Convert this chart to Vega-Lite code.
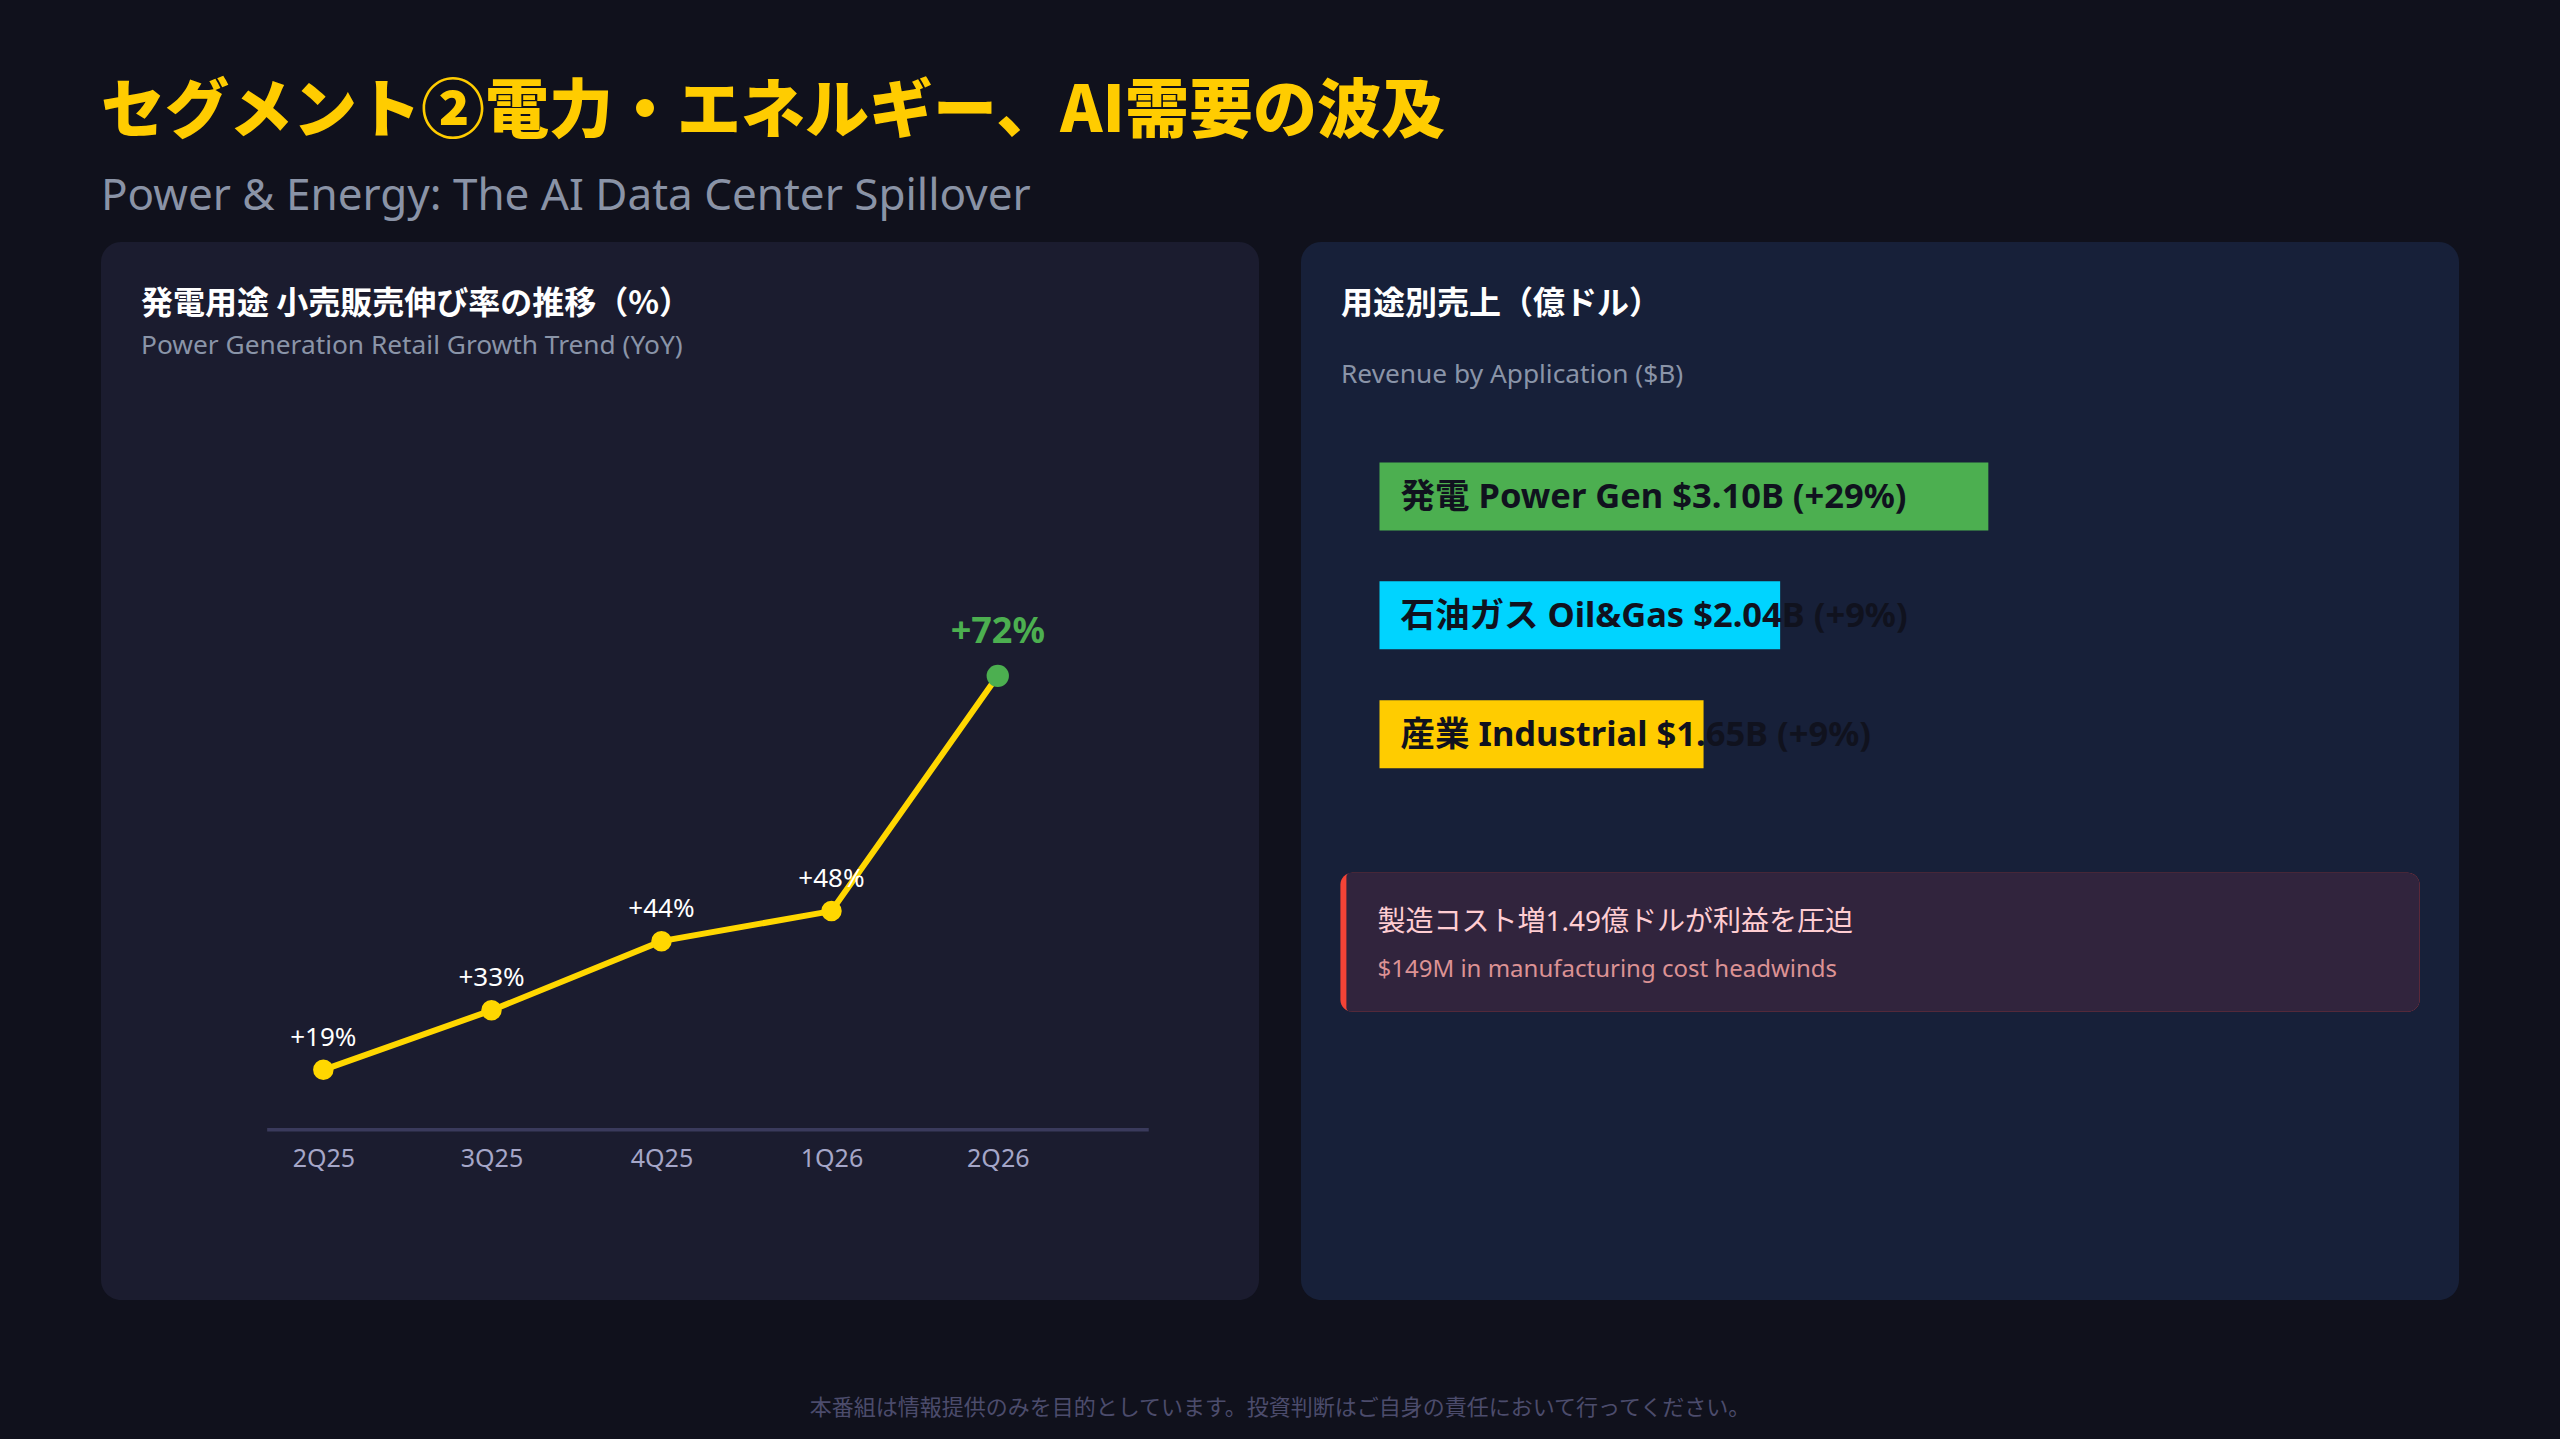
{
  "$schema": "https://vega.github.io/schema/vega-lite/v6.json",
  "background": "#10111c",
  "padding": {"left": 101, "top": 81, "right": 101, "bottom": 20},
  "title": {
    "text": "セグメント②電力・エネルギー、AI需要の波及",
    "subtitle": "Power & Energy: The AI Data Center Spillover",
    "anchor": "start",
    "frame": "bounds",
    "offset": 22.8,
    "font": "Noto Sans CJK JP",
    "fontSize": 64,
    "fontWeight": 900,
    "color": "#ffcc00",
    "subtitleFont": "Noto Sans, Noto Sans CJK JP",
    "subtitleFontSize": 44,
    "subtitleColor": "#8a93a6",
    "subtitlePadding": 30.2
  },
  "config": {
    "view": {"stroke": null},
    "text": {"font": "Noto Sans, Noto Sans CJK JP"}
  },
  "vconcat": [
    {
      "title": {
        "text": "本番組は情報提供のみを目的としています。投資判断はご自身の責任において行ってください。",
        "orient": "bottom",
        "anchor": "middle",
        "frame": "bounds",
        "offset": 97.6,
        "font": "Noto Sans CJK JP",
        "fontSize": 22,
        "fontWeight": "normal",
        "color": "#4c4c6c"
      },
      "spacing": 42,
      "hconcat": [
        {
          "width": 1158,
          "height": 1058,
          "view": {"fill": "#1b1c2f", "cornerRadius": 20, "stroke": null},
          "title": {
            "text": "発電用途 小売販売伸び率の推移（%）",
            "subtitle": "Power Generation Retail Growth Trend (YoY)",
            "anchor": "start",
            "frame": "group",
            "offset": -118.5,
            "dx": 40,
            "font": "Noto Sans CJK JP",
            "fontSize": 32,
            "fontWeight": "bold",
            "color": "#ffffff",
            "subtitleFont": "Noto Sans, Noto Sans CJK JP",
            "subtitleFontSize": 26.3,
            "subtitleColor": "#8a94a8",
            "subtitlePadding": 11.9
          },
          "data": {
            "values": [
              {"q": "2Q25", "quarter": "2025-04-01", "growth": 0.19},
              {"q": "3Q25", "quarter": "2025-07-01", "growth": 0.33},
              {"q": "4Q25", "quarter": "2025-10-01", "growth": 0.44},
              {"q": "1Q26", "quarter": "2026-01-01", "growth": 0.48},
              {"q": "2Q26", "quarter": "2026-04-01", "growth": 0.72}
            ]
          },
          "encoding": {
            "x": {
              "field": "quarter",
              "type": "temporal",
              "scale": {
                "type": "utc",
                "domain": [
                  {"year": 2024, "month": 12, "date": 1, "hours": 16, "utc": true},
                  {"year": 2026, "month": 8, "date": 20, "hours": 9, "utc": true}
                ],
                "nice": false
              },
              "axis": {
                "title": null,
                "values": [
                  {"year": 2025, "month": 4, "date": 1, "utc": true},
                  {"year": 2025, "month": 7, "date": 1, "utc": true},
                  {"year": 2025, "month": 10, "date": 1, "utc": true},
                  {"year": 2026, "month": 1, "date": 1, "utc": true},
                  {"year": 2026, "month": 4, "date": 1, "utc": true}
                ],
                "format": "%qQ%y",
                "domain": false,
                "ticks": false,
                "tickSize": 0,
                "grid": false,
                "labelFlush": false,
                "labelOverlap": false,
                "labelPadding": 17,
                "labelFont": "Noto Sans",
                "labelFontSize": 25,
                "labelColor": "#a5a6c8",
                "offset": -170.2
              }
            },
            "y": {
              "field": "growth",
              "type": "quantitative",
              "scale": {"type": "pow", "exponent": 2, "domain": [-0.49567, 1.02443], "nice": false, "zero": false},
              "axis": null
            }
          },
          "layer": [
            {
              "transform": [{"filter": "datum.q === '2Q25'"}],
              "mark": {"type": "rule", "color": "#3a3a5c", "strokeWidth": 3.5},
              "encoding": {
                "x": {"datum": {"year": 2025, "month": 3, "date": 1, "hours": 14, "utc": true}, "type": "temporal"},
                "x2": {"datum": {"year": 2026, "month": 6, "date": 21, "hours": 17, "utc": true}},
                "y": {"datum": -0.19323, "type": "quantitative"}
              }
            },
            {
              "mark": {"type": "line", "color": "#ffd700", "strokeWidth": 6},
              "encoding": {}
            },
            {
              "mark": {"type": "circle", "opacity": 1},
              "encoding": {
                "color": {"condition": {"test": "datum.q === '2Q26'", "value": "#4caf50"}, "value": "#ffd700"},
                "size": {"condition": {"test": "datum.q === '2Q26'", "value": 500}, "value": 420}
              }
            },
            {
              "transform": [{"filter": "datum.q !== '2Q26'"}],
              "mark": {"type": "text", "dy": -32, "fontSize": 26, "color": "#ffffff", "align": "center", "baseline": "middle"},
              "encoding": {"text": {"field": "growth", "type": "quantitative", "format": "+.0%"}}
            },
            {
              "transform": [{"filter": "datum.q === '2Q26'"}],
              "mark": {"type": "text", "dy": -44, "fontSize": 36, "fontWeight": "bold", "color": "#4caf50", "align": "center", "baseline": "middle"},
              "encoding": {"text": {"field": "growth", "type": "quantitative", "format": "+.0%"}}
            }
          ]
        },
        {
          "width": 1158,
          "height": 1058,
          "view": {"fill": "#172039", "cornerRadius": 20, "stroke": null},
          "title": {
            "text": "用途別売上（億ドル）",
            "subtitle": "Revenue by Application ($B)",
            "anchor": "start",
            "frame": "group",
            "offset": -147.5,
            "dx": 40,
            "font": "Noto Sans CJK JP",
            "fontSize": 32,
            "fontWeight": "bold",
            "color": "#ffffff",
            "subtitleFont": "Noto Sans, Noto Sans CJK JP",
            "subtitleFontSize": 26.3,
            "subtitleColor": "#8a94a8",
            "subtitlePadding": 40.9
          },
          "data": {
            "values": [
              {"rank": 1, "segment": "発電 Power Gen", "revenue": 3.10, "growth": 0.29, "label": "発電 Power Gen $3.10B (+29%)"},
              {"rank": 2, "segment": "石油ガス Oil&Gas", "revenue": 2.04, "growth": 0.09, "label": "石油ガス Oil&Gas $2.04B (+9%)"},
              {"rank": 3, "segment": "産業 Industrial", "revenue": 1.65, "growth": 0.09, "label": "産業 Industrial $1.65B (+9%)"}
            ]
          },
          "encoding": {
            "x": {
              "field": "revenue",
              "type": "quantitative",
              "stack": null,
              "scale": {"domain": [-0.3997, 5.4965], "nice": false, "zero": false},
              "axis": null
            },
            "y": {
              "field": "rank",
              "type": "quantitative",
              "scale": {"domain": [-1.09875, 7.71792], "reverse": true, "nice": false, "zero": false},
              "axis": null
            }
          },
          "layer": [
            {
              "mark": {"type": "bar", "orient": "horizontal", "size": 68},
              "encoding": {
                "x2": {"datum": 0},
                "color": {
                  "field": "segment",
                  "type": "nominal",
                  "scale": {"domain": ["発電 Power Gen", "石油ガス Oil&Gas", "産業 Industrial"], "range": ["#4caf50", "#00d4ff", "#ffcc00"]},
                  "legend": null
                }
              }
            },
            {
              "mark": {"type": "text", "align": "left", "baseline": "middle", "dx": 21, "dy": 2, "fontSize": 34.5, "fontWeight": "bold", "color": "#10121e"},
              "encoding": {
                "x": {"datum": 0, "type": "quantitative"},
                "text": {"field": "label", "type": "nominal"}
              }
            },
            {
              "transform": [{"filter": "datum.rank === 1"}],
              "mark": {"type": "rect", "color": "#f44336", "cornerRadius": 12},
              "encoding": {
                "x": {"datum": -0.1991, "type": "quantitative"},
                "x2": {"datum": 5.2958},
                "y": {"datum": 4.165, "type": "quantitative"},
                "y2": {"datum": 5.335}
              }
            },
            {
              "transform": [{"filter": "datum.rank === 1"}],
              "mark": {"type": "rect", "color": "#31243d", "cornerRadiusTopLeft": 4, "cornerRadiusBottomLeft": 4, "cornerRadiusTopRight": 12, "cornerRadiusBottomRight": 12},
              "encoding": {
                "x": {"datum": -0.1686, "type": "quantitative"},
                "x2": {"datum": 5.2958},
                "y": {"datum": 4.165, "type": "quantitative"},
                "y2": {"datum": 5.335}
              }
            },
            {
              "transform": [{"filter": "datum.rank === 1"}],
              "mark": {"type": "text", "align": "left", "baseline": "middle", "dx": -2, "fontSize": 28, "color": "#ffcdd2", "text": "製造コスト増1.49億ドルが利益を圧迫"},
              "encoding": {
                "x": {"datum": 0, "type": "quantitative"},
                "y": {"datum": 4.585, "type": "quantitative"}
              }
            },
            {
              "transform": [{"filter": "datum.rank === 1"}],
              "mark": {"type": "text", "align": "left", "baseline": "middle", "dx": -2, "fontSize": 24, "color": "#dc9294", "text": "$149M in manufacturing cost headwinds"},
              "encoding": {
                "x": {"datum": 0, "type": "quantitative"},
                "y": {"datum": 4.985, "type": "quantitative"}
              }
            }
          ]
        }
      ]
    }
  ]
}
